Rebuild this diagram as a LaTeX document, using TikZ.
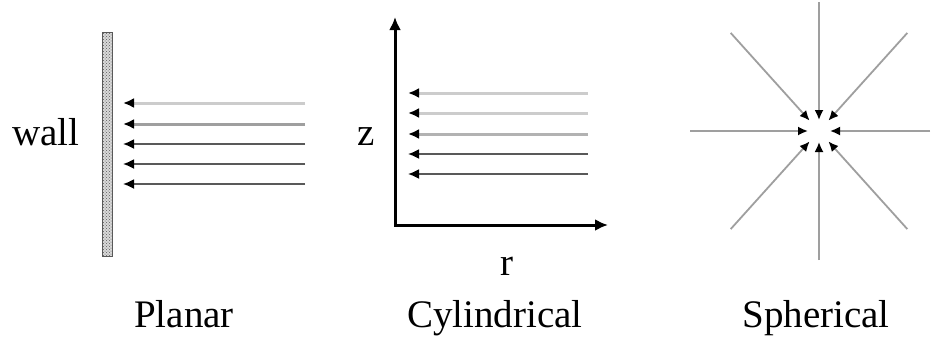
\documentclass[tikz,border=0pt]{standalone}
\usepackage{fontspec}
\setmainfont{Liberation Serif}
\usetikzlibrary{arrows.meta,patterns,calc}
\tikzset{
  lbl/.style={anchor=base, inner sep=0pt, font=\fontsize{39}{46}\selectfont},
  flow/.style={-{Latex[length=11pt,width=10pt,color=black]}},
  axis/.style={black, line width=3pt, {Latex[length=13pt,width=12pt]}-{Latex[length=13pt,width=12pt]}},
  ray/.style={gray!75, line width=1.8pt, -{Latex[length=10pt,width=9pt,color=black]}}
}
\begin{document}
\begin{tikzpicture}[x=1pt, y=-1pt]
  \useasboundingbox (0,0) rectangle (937,338);
  % planar
  \draw[gray!70!black, line width=1pt, fill=gray!30, postaction={pattern=crosshatch dots, pattern color=gray!70!black}] (102,32) rectangle (112,256);
  \node[lbl] (wall) at (46,145) {wall};
  \foreach \y/\c/\w in {103/gray!40/3pt, 124/gray!75/3pt, 144/gray!70!black/1.8pt, 164/gray!70!black/1.8pt, 184/gray!70!black/1.8pt}{
    \coordinate (ps\y) at (305,\y);
    \coordinate (pe\y) at (123,\y);
    \draw[flow, draw=\c, line width=\w] (ps\y) -- (pe\y);}
  \node[lbl] (planar) at (184,327) {Planar};
  % cylindrical
  \coordinate (O) at (395,225);
  \coordinate (ztip) at (395,17);
  \coordinate (rtip) at (608,225);
  \draw[axis] (ztip) |- (rtip);
  \foreach \y/\c/\w in {93/gray!40/3pt, 113/gray!40/3pt, 134/gray!60/3pt, 154/gray!70!black/1.8pt, 174/gray!70!black/1.8pt}{
    \coordinate (cs\y) at (588,\y);
    \coordinate (ce\y) at (408,\y);
    \draw[flow, draw=\c, line width=\w] (cs\y) -- (ce\y);}
  \node[lbl] (z) at (366,145) {z};
  \node[lbl] (r) at (507,275) {r};
  \node[lbl] (cyl) at (495,327) {Cylindrical};
  % spherical
  \coordinate (c) at (819,131);
  \foreach \a/\l/\t in {0/111/11, 48/132/14, 90/129/11, 132/132/14, 180/129/11, 228/132/14, 270/129/11, 312/132/14}{
    \coordinate (so\a) at ($(c)+(\a:\l)$);
    \coordinate (si\a) at ($(c)+(\a:\t)$);
    \draw[ray] (so\a) -- (si\a);}
  \node[lbl] (sph) at (816,327) {Spherical};
\end{tikzpicture}
\end{document}
